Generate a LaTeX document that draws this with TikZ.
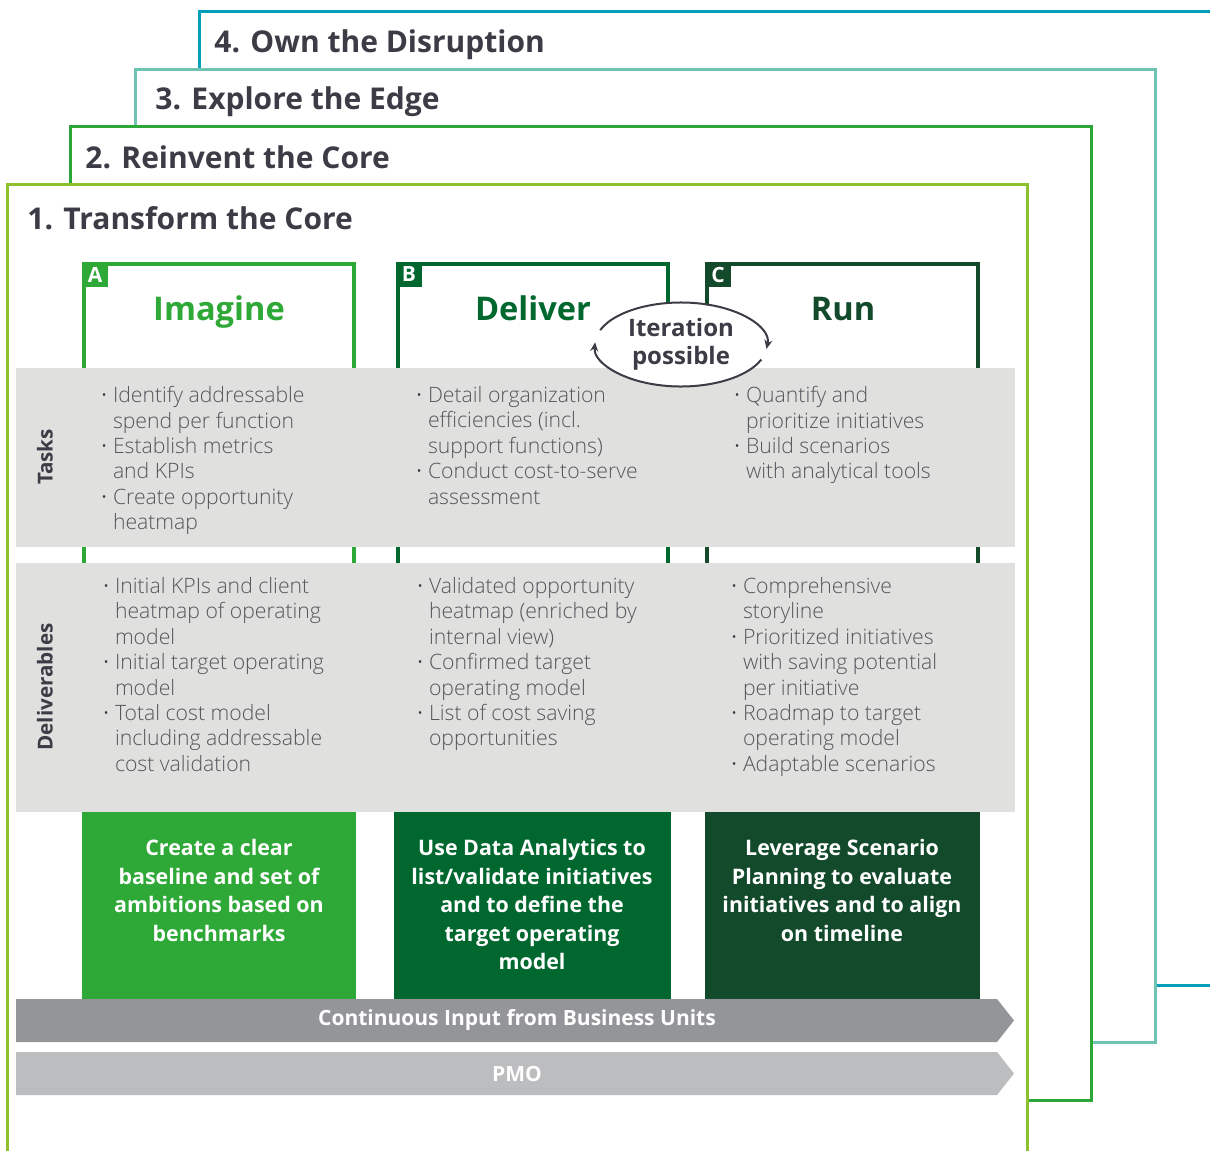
\documentclass[tikz,border=0pt]{standalone}
\usepackage{fontspec}
\setmainfont{Open Sans}
\newfontfamily\lightfont{Open Sans Light}
\usepackage{tikz}
\usetikzlibrary{positioning,shapes.geometric,arrows.meta}

\definecolor{frameD}{HTML}{00A0BA}
\definecolor{frameC}{HTML}{6FC3B3}
\definecolor{frameB}{HTML}{2DA638}
\definecolor{frameA}{HTML}{8CC12B}
\definecolor{colA}{HTML}{2EA836}
\definecolor{colB}{HTML}{00682F}
\definecolor{colC}{HTML}{134A2B}
\definecolor{bandgray}{HTML}{E0E0DF}
\definecolor{bardark}{HTML}{939598}
\definecolor{barlight}{HTML}{BCBDBF}
\definecolor{inkgray}{HTML}{3C3C46}
\definecolor{bodygray}{HTML}{55565B}

\newcommand{\bpt}{\makebox[5.8pt][l]{\normalfont\textcolor{inkgray}{·}}}
\newcommand{\bcont}{\hspace*{5.8pt}}

\begin{document}
\begin{tikzpicture}[x=0.5pt, y=-0.5pt,
    stageframe/.style={line width=1.5pt, fill=white},
    stagetitle/.style={anchor=base west, inner sep=0, text=inkgray, font=\bfseries\fontsize{15}{18}\selectfont},
    phasehead/.style={anchor=base, inner sep=0, font=\bfseries\fontsize{16.3}{19}\selectfont},
    tagletter/.style={inner sep=0, text=white, font=\bfseries\fontsize{10.5}{12}\selectfont},
    bullets/.style={anchor=north west, inner sep=0, align=left, text=bodygray, font=\lightfont\fontsize{10.6}{12.7}\selectfont},
    rowlabel/.style={rotate=90, inner sep=0, text=inkgray, font=\bfseries\fontsize{10.3}{12}\selectfont},
    goaltext/.style={anchor=north, inner sep=0, align=center, text=white, font=\bfseries\fontsize{10.7}{14.25}\selectfont},
    bartext/.style={inner sep=0, text=white, font=\bfseries\fontsize{10.5}{12}\selectfont}]

    % Canvas
    \useasboundingbox (0,0) rectangle (1210,1151);
    \clip (0,0) rectangle (1210,1151);

    % Stacked stage frames
    \draw[stageframe, draw=frameD] (199,11) rectangle (1240,985);
    \draw[stageframe, draw=frameC] (135,69) rectangle (1155,1042);
    \draw[stageframe, draw=frameB] (70,126) rectangle (1091,1100);
    \draw[stageframe, draw=frameA] (7,184) rectangle (1027,1180);

    % Stage titles
    \node[stagetitle] (own) at (214,52) {4. Own the Disruption};
    \node[stagetitle] (explore) at (155,109) {3. Explore the Edge};
    \node[stagetitle] (reinvent) at (85,168) {2. Reinvent the Core};
    \node[stagetitle] (transform) at (27,229) {1. Transform the Core};

    % Phase columns
    \draw[colA, line width=1.75pt] (84,812) -- (84,264) -- (354,264) -- (354,812);
    \draw[colB, line width=1.75pt] (398,812) -- (398,264) -- (668,264) -- (668,812);
    \draw[colC, line width=1.75pt] (707,812) -- (707,264) -- (978,264) -- (978,812);

    \fill[colA] (82,262) rectangle (108,287);
    \fill[colB] (396,262) rectangle (422,287);
    \fill[colC] (705,262) rectangle (731,287);
    \node[tagletter] (tagA) at (95,274.5) {A};
    \node[tagletter] (tagB) at (409,274.5) {B};
    \node[tagletter] (tagC) at (718,274.5) {C};

    \node[phasehead, text=colA] (imagine) at (219,320) {Imagine};
    \node[phasehead, text=colB] (deliver) at (533,320) {Deliver};
    \node[phasehead, text=colC] (run) at (843,320) {Run};

    % Grey bands
    \fill[bandgray] (16,368) rectangle (1015,547);
    \fill[bandgray] (16,563) rectangle (1015,812);
    \node[rowlabel] (tasks) at (45,457) {Tasks};
    \node[rowlabel] (deliverables) at (45,687) {Deliverables};

    % Tasks
    \node[bullets] (tasksA) at (101,386) {\bpt Identify addressable\\\bcont spend per function\\\bpt Establish metrics\\\bcont and KPIs\\\bpt Create opportunity\\\bcont heatmap};
    \node[bullets] (tasksB) at (416,386) {\bpt Detail organization\\\bcont efficiencies (incl.\\\bcont support functions)\\\bpt Conduct cost-to-serve\\\bcont assessment};
    \node[bullets] (tasksC) at (734,386) {\bpt Quantify and\\\bcont prioritize initiatives\\\bpt Build scenarios\\\bcont with analytical tools};

    % Deliverables
    \node[bullets] (delivA) at (103,577) {\bpt Initial KPIs and client\\\bcont heatmap of operating\\\bcont model\\\bpt Initial target operating\\\bcont model\\\bpt Total cost model\\\bcont including addressable\\\bcont cost validation};
    \node[bullets] (delivB) at (417,577) {\bpt Validated opportunity\\\bcont heatmap (enriched by\\\bcont internal view)\\\bpt Confirmed target\\\bcont operating model\\\bpt List of cost saving\\\bcont opportunities};
    \node[bullets] (delivC) at (731,577) {\bpt Comprehensive\\\bcont storyline\\\bpt Prioritized initiatives\\\bcont with saving potential\\\bcont per initiative\\\bpt Roadmap to target\\\bcont operating model\\\bpt Adaptable scenarios};

    % Goal boxes
    \fill[colA] (82,812) rectangle (356,999);
    \fill[colB] (394,812) rectangle (671,999);
    \fill[colC] (705,812) rectangle (980,999);
    \node[goaltext] (goalA) at (219,839) {Create a clear\\baseline and set of\\ambitions based on\\benchmarks};
    \node[goaltext] (goalB) at (532,839) {Use Data Analytics to\\list/validate initiatives\\and to define the\\target operating\\model};
    \node[goaltext] (goalC) at (842,839) {Leverage Scenario\\Planning to evaluate\\initiatives and to align\\on timeline};

    % Arrow bars
    \fill[bardark] (16,999) -- (997,999) -- (1014,1020.5) -- (997,1042) -- (16,1042) -- cycle;
    \fill[barlight] (16,1052) -- (997,1052) -- (1014,1073.5) -- (997,1095) -- (16,1095) -- cycle;
    \node[bartext] (business) at (517,1020) {Continuous Input from Business Units};
    \node[bartext] (pmo) at (517,1073.5) {PMO};

    % Iteration loop
    \node[ellipse, fill=white, inner sep=0, minimum width=86pt, minimum height=41pt, align=center, text=inkgray,
          font=\bfseries\fontsize{12}{14}\selectfont] (iter) at (681,344.5) {Iteration\\possible};
    \draw[inkgray, line width=1pt, -{Stealth[length=4.5pt, width=4pt]}] (iter.center) ++(-160:86 and 42)
        arc[start angle=-160, end angle=6, x radius=86, y radius=42];
    \draw[inkgray, line width=1pt, -{Stealth[length=4.5pt, width=4pt]}] (iter.center) ++(21:86 and 42)
        arc[start angle=21, end angle=183, x radius=86, y radius=42];

\end{tikzpicture}
\end{document}
